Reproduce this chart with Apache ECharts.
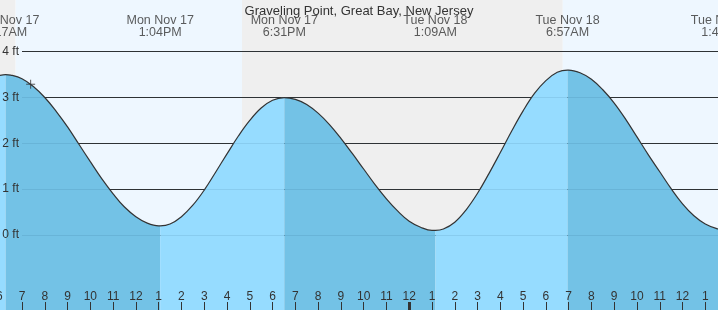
<!DOCTYPE html>
<html>
<head>
<meta charset="utf-8">
<script src="https://cdn.jsdelivr.net/npm/echarts@6/dist/echarts.min.js"></script>
<style>
html,body{margin:0;padding:0;background:#fff;}
#chart{width:718px;height:310px;}
</style>
</head>
<body>
<div id="chart"></div>
<script>
// ---- data (hours counted from Mon Nov 17 00:00) ----
var titleText = 'Graveling Point, Great Bay, New Jersey';
var tideHours = [6, 6.283, 6.5, 7, 7.5, 8, 8.5, 9, 9.5, 10, 10.5, 11, 11.5, 12, 12.5, 13, 13.067,
                 13.5, 14, 14.5, 15, 15.5, 16, 16.5, 17, 17.5, 18, 18.517,
                 19, 19.5, 20, 20.5, 21, 21.5, 22, 22.5, 23, 23.5, 24, 24.5, 25, 25.15,
                 25.5, 26, 26.5, 27, 27.5, 28, 28.5, 29, 29.5, 30, 30.5, 30.95,
                 31, 31.5, 32, 32.5, 33, 33.5, 34, 34.5, 35, 35.5, 36, 36.5, 37, 37.5, 37.77, 38];
var tideFeet  = [3.48, 3.5, 3.49, 3.41, 3.24, 3.0, 2.7, 2.36, 1.98, 1.6, 1.23, 0.9, 0.61, 0.4, 0.26, 0.2, 0.2,
                 0.24, 0.4, 0.65, 0.98, 1.37, 1.77, 2.16, 2.5, 2.77, 2.94, 3.0,
                 2.96, 2.85, 2.66, 2.41, 2.11, 1.78, 1.44, 1.1, 0.79, 0.52, 0.3, 0.17, 0.1, 0.1,
                 0.13, 0.28, 0.55, 0.91, 1.34, 1.8, 2.27, 2.71, 3.09, 3.37, 3.55, 3.6,
                 3.6, 3.54, 3.4, 3.17, 2.88, 2.53, 2.14, 1.75, 1.38, 1.01, 0.68, 0.42, 0.24, 0.14, 0.12, 0.13];
var eventHours  = [6.283, 13.067, 18.517, 25.15, 30.95, 37.77];
var eventLabels = ['Mon Nov 17\n6:17AM', 'Mon Nov 17\n1:04PM', 'Mon Nov 17\n6:31PM', 'Tue Nov 18\n1:09AM', 'Tue Nov 18\n6:57AM', 'Tue Nov 18\n1:46PM'];
var sunBands   = [[6, 6.72, 'night'], [6.72, 16.66, 'day'], [16.66, 30.74, 'night'], [30.74, 38, 'day']];
var feetTicks  = [0, 1, 2, 3, 4];
var feetLabels = ['0 ft', '1 ft', '2 ft', '3 ft', '4 ft'];
var nowMarker  = [7.38, 3.29];
var midnightHour = 24;

// ---- layout / styles ----
var PX_PER_HR = 22.777;
var X_MIN = 6, LEFT = -0.777;
var X_MAX = X_MIN + (718 - LEFT) / PX_PER_HR;
var PX_PER_FT = 45.825, ZERO_Y = 235;
var Y_MAX = ZERO_Y / PX_PER_FT, Y_MIN = -(310 - ZERO_Y) / PX_PER_FT;
var FONT = 'Liberation Sans, Arial, sans-serif';
var DARK = '#73c2e6', LIGHT = '#96dcff', DAYBG = '#eef7ff', NIGHTBG = '#efefef', INK = '#333';
var yOfPx = function (px) { return (ZERO_Y - px) / PX_PER_FT; };

var pts = tideHours.map(function (t, i) { return [t, tideFeet[i]]; });

// fill segments between tide extremes
var bounds = [X_MIN].concat(eventHours).concat([tideHours[tideHours.length - 1]]);
var series = [];
for (var s = 0; s < bounds.length - 1; s++) {
  var a = bounds[s], b = bounds[s + 1];
  var seg = pts.filter(function (p) { return p[0] >= a - 1e-9 && p[0] <= b + 1e-9; });
  if (seg.length < 2) continue;
  var rising = seg[seg.length - 1][1] > seg[0][1];
  series.push({
    type: 'line', data: seg, smooth: 0.4, showSymbol: false, silent: true, z: 2,
    lineStyle: { width: 0 }, areaStyle: { color: rising ? LIGHT : DARK, opacity: 1, origin: 'start' }
  });
}

// background day/night
series.push({
  type: 'line', data: [], z: 0,
  markArea: {
    silent: true, z: 0,
    data: sunBands.map(function (b) {
      return [{ coord: [b[0], Y_MIN], itemStyle: { color: b[2] === 'day' ? DAYBG : NIGHTBG } }, { coord: [b[1], Y_MAX] }];
    })
  }
});
// black grid lines (hidden under the fill)
series.push({
  type: 'line', data: [], z: 1,
  markLine: {
    silent: true, z: 1, symbol: 'none', animation: false, label: { show: false },
    lineStyle: { color: INK, width: 1, type: 'solid' },
    data: feetTicks.map(function (v) { return [{ coord: [7, v] }, { coord: [X_MAX, v] }]; })
  }
});
// faint grid lines on top of fill, with the ft labels
series.push({
  type: 'line', data: [], z: 3,
  markLine: {
    silent: true, z: 3, symbol: 'none', animation: false,
    lineStyle: { color: 'rgba(0,40,80,0.09)', width: 1, type: 'solid' },
    label: { show: true, position: 'start', distance: 3, color: INK, fontSize: 12, fontFamily: FONT,
             formatter: function (p) { return feetLabels[feetTicks.indexOf(p.data.v)]; } },
    data: feetTicks.map(function (v) { return [{ coord: [7, v], v: v }, { coord: [X_MAX, v] }]; })
  }
});
// tide curve
series.push({
  type: 'line', data: pts, smooth: 0.4, showSymbol: false, silent: true, z: 4,
  lineStyle: { color: INK, width: 1.2 }
});
// midnight thick tick
series.push({
  type: 'line', data: [], z: 6,
  markLine: {
    silent: true, z: 6, symbol: 'none', animation: false, label: { show: false },
    lineStyle: { color: INK, width: 3, type: 'solid' },
    data: [[{ coord: [midnightHour, Y_MIN] }, { coord: [midnightHour, yOfPx(302)] }]]
  }
});
// current-time marker
series.push({
  type: 'scatter', data: [nowMarker], z: 6, silent: true,
  symbol: 'path://M0,5L10,5M5,0L5,10', symbolSize: 9,
  itemStyle: { color: 'none', borderColor: INK, borderWidth: 1 }
});
// tide event labels
series.push({
  type: 'scatter', clip: false, silent: true, z: 7, symbolSize: 1,
  itemStyle: { color: 'rgba(0,0,0,0)' },
  data: eventHours.map(function (t, i) { return { value: [t, yOfPx(26.5)], name: eventLabels[i] }; }),
  label: { show: true, position: 'inside', formatter: function (p) { return p.name; },
           color: INK, fontSize: 12.5, lineHeight: 12, fontFamily: FONT, align: 'center' }
});

var chart = echarts.init(document.getElementById('chart'), null, { renderer: 'canvas' });
chart.setOption({
  animation: false,
  backgroundColor: '#fff',
  title: { text: titleText, left: 'center', top: 0,
           textStyle: { fontSize: 13, fontWeight: 'normal', color: INK, fontFamily: FONT } },
  grid: { left: LEFT, right: 0, top: 0, bottom: 0, containLabel: false, outerBoundsMode: 'none' },
  xAxis: {
    type: 'value', min: X_MIN, max: X_MAX, interval: 1, z: 10,
    axisLine: { show: false, onZero: false },
    axisTick: { show: true, inside: true, length: 8, lineStyle: { color: INK, width: 1 } },
    axisLabel: { show: true, inside: true, margin: 7, color: INK, fontSize: 12, fontFamily: FONT,
                 showMinLabel: true, showMaxLabel: false, hideOverlap: false,
                 formatter: function (v) { var h = Math.round(v) % 12; return h === 0 ? '12' : String(h); } },
    splitLine: { show: false }
  },
  yAxis: { type: 'value', min: Y_MIN, max: Y_MAX, show: false, splitLine: { show: false } },
  series: series
});
</script>
</body>
</html>
